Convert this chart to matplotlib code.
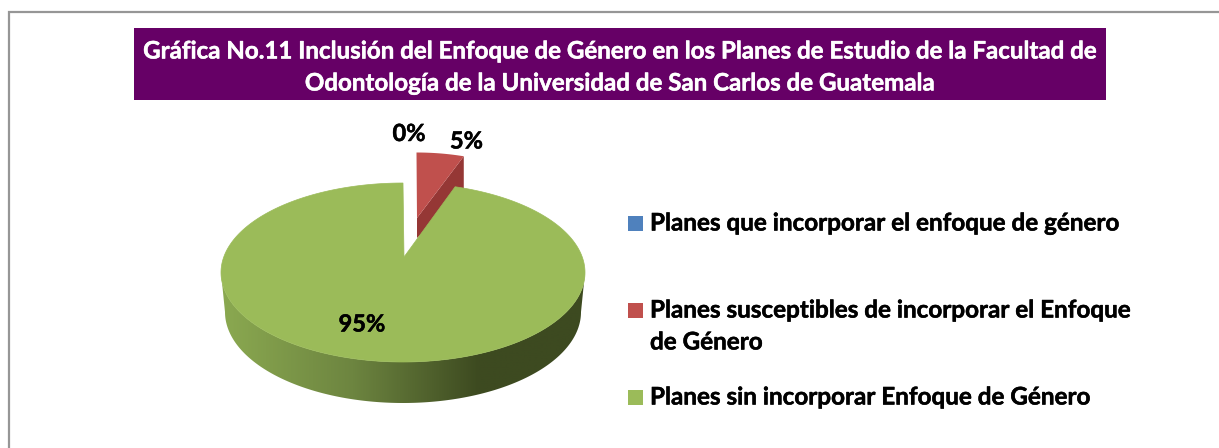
import numpy as np
import matplotlib
matplotlib.use("Agg")
import matplotlib.pyplot as plt
from matplotlib.patches import Polygon, Rectangle
from matplotlib.colors import LinearSegmentedColormap
import matplotlib.patheffects as pe

W, H = 1219, 448
plt.rcParams['font.family'] = ['Lato', 'DejaVu Sans']

title_lines = ["Gráfica No.11 Inclusión del Enfoque de Género en los Planes de Estudio de la Facultad de",
               "Odontología de la Universidad de San Carlos de Guatemala"]
categories = ["Planes que incorporar el enfoque de género",
              "Planes susceptibles de incorporar el Enfoque\nde Género",
              "Planes sin incorporar Enfoque de Género"]
values = [0, 5, 95]
labels = ["0%", "5%", "95%"]
colors = ["#4F81BD", "#C0504D", "#9BBB59"]

fig = plt.figure(figsize=(W/100, H/100), dpi=100)
ax = fig.add_axes([0, 0, 1, 1])
ax.set_xlim(0, W); ax.set_ylim(H, 0); ax.axis('off')

# frame
ax.plot([8.5, 8.5, W], [H, 12.5, 12.5], color="#969696", lw=1.6, solid_joinstyle='miter')

heavy = [pe.withStroke(linewidth=0.35, foreground='white')]
heavy_k = [pe.withStroke(linewidth=0.35, foreground='black')]

# title
ax.add_patch(Rectangle((134, 28), 972, 72, fc="#660066", ec="none"))
ax.text(620, 51, title_lines[0], color="white", fontsize=17.35, fontweight='bold', ha='center', va='center', path_effects=heavy)
ax.text(620, 83, title_lines[1], color="white", fontsize=17.35, fontweight='bold', ha='center', va='center', path_effects=heavy)

total = sum(values)
red_sweep = values[1] / total * 360 * 0.925

def rim(t, cx, cy, rx, ry):
    t = np.radians(t)
    return np.column_stack([cx + rx*np.sin(t), cy - ry*np.cos(t)])

# green slice
cx, cy, rx, ry = 403, 272.5, 182, 89.5
bcx, bcy, brx, bry = 403, 312, 178, 91
apex = (404, 257)

# side wall, filled with a horizontal gradient
ts = np.linspace(90, 270, 300)
side_poly = Polygon(np.vstack([rim(ts, cx, cy, rx, ry), rim(ts[::-1], bcx, bcy, brx, bry)]),
                    fc='none', ec='none', transform=ax.transData)
ax.add_patch(side_poly)
cmap = LinearSegmentedColormap.from_list("side", ["#8aa850", "#6d8540", "#3d4a20", "#3d4a20"])
grad = np.clip((np.linspace(215, 590, 376) - 225) / (590 - 225), 0, 1)[None, :]
grad = np.interp(grad, [0, 0.7, 1], [0, 0.67, 1])
im = ax.imshow(grad, extent=(215, 590, 410, 260), cmap=cmap, aspect='auto', zorder=2, interpolation='bilinear')
im.set_clip_path(side_poly)
ax.set_xlim(0, W); ax.set_ylim(H, 0)

ax.add_patch(Polygon(np.vstack([[apex], rim(np.linspace(red_sweep, 360, 300), cx, cy, rx, ry)]),
                     fc=colors[2], ec=colors[2], lw=0.5, zorder=3))

# red slice
ra = (417, 218)
rcx, rcy, rrx, rry = 416.5, 242.5, 165, 90
tr = np.linspace(0, red_sweep, 30)
rr = rim(tr, rcx, rcy, rrx, rry)
side = np.array([ra, rr[-1], (rr[-1][0], rr[-1][1] + 41), (417, 238)])
ax.add_patch(Polygon(side, fc="#953735", ec="none", zorder=1))
ax.add_patch(Polygon(np.vstack([[ra], rr]), fc=colors[1], ec="none", zorder=1.5))

# data labels
ax.text(409, 133.5, labels[0], fontsize=17, fontweight='bold', ha='center', va='center', color='black', zorder=5, path_effects=heavy_k)
ax.text(466.5, 141, labels[1], fontsize=17, fontweight='bold', ha='center', va='center', color='black', zorder=5, path_effects=heavy_k)
ax.text(362, 324, labels[2], fontsize=17, fontweight='bold', ha='center', va='center', color='black', zorder=5, path_effects=heavy_k)

# legend
ys = [223.3, 310.3, 397.3]
texty = [223, 326, 397]
for c, y, ty, cat in zip(colors, ys, texty, categories):
    ax.add_patch(Rectangle((628, y-7.6), 15.2, 15.2, fc=c, ec="none"))
    ax.text(650, ty, cat, fontsize=17.45, fontweight='bold', ha='left', va='center', color='black',
            linespacing=1.47, path_effects=heavy_k)

fig.savefig("out.png", dpi=100)
